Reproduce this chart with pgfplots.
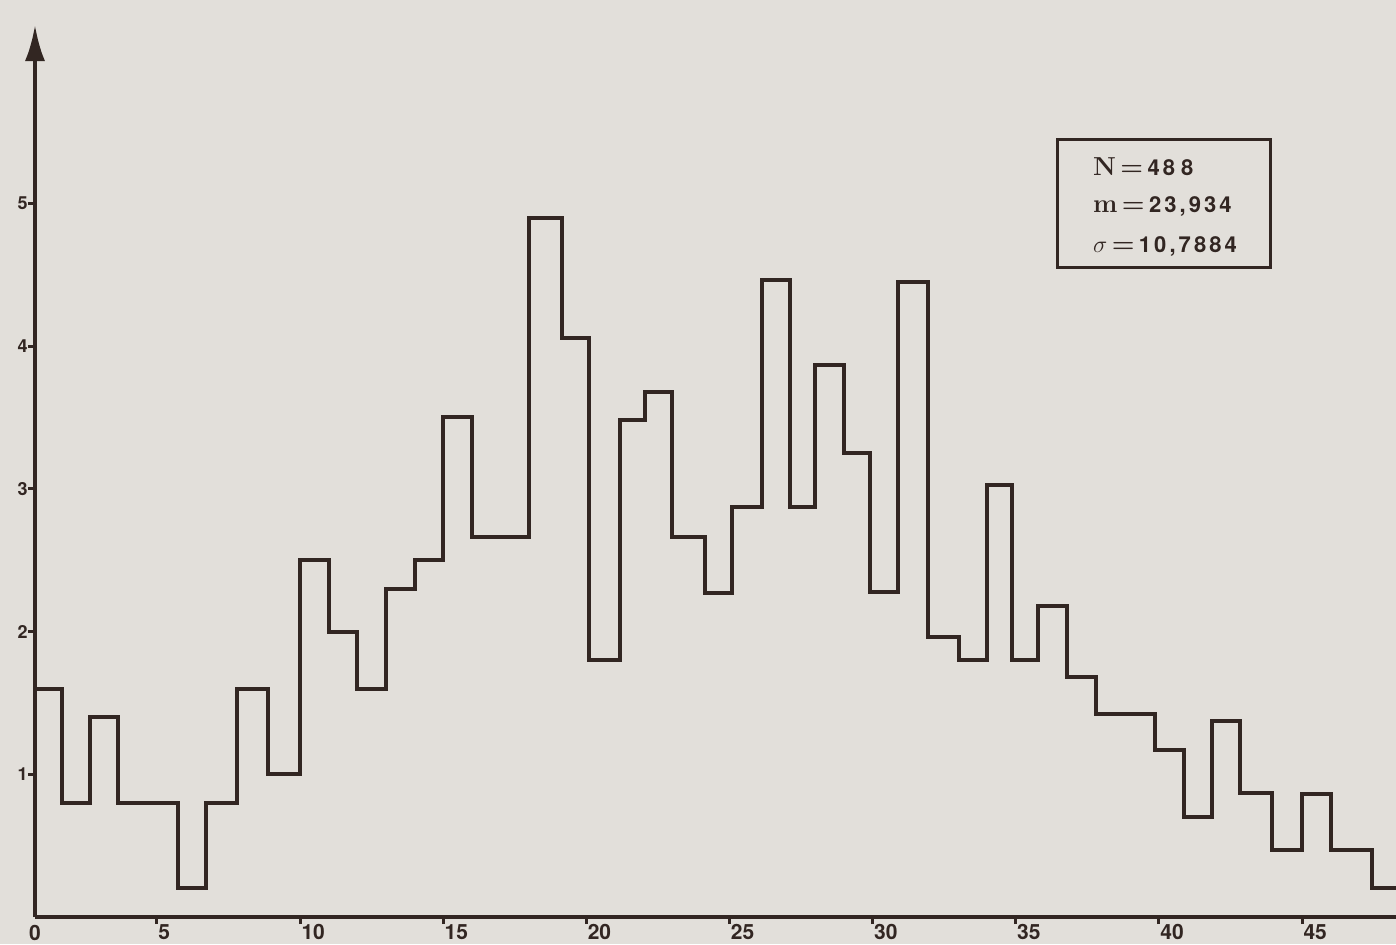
\documentclass[border=0pt]{standalone}
\usepackage{pgfplots}
\pgfplotsset{compat=1.18}
\usepackage{pgfplotstable}
\usepackage{fontspec}
\setsansfont{TeX Gyre Heros}
\newfontfamily\boxnum{TeX Gyre Heros}[LetterSpace=14]
\usetikzlibrary{arrows.meta}

\definecolor{paper}{RGB}{226,223,218}
\definecolor{ink}{RGB}{50,38,34}

% left edge of each class, frequency (last row closes the final step)
\pgfplotstableread{
x     f
0.74  1.6
1.68  0.8
2.66  1.4
3.64  0.8
4.69  0.8
5.73  0.2
6.71  0.8
7.8   1.6
8.88  1.0
10    2.5
11    2.0
12    1.6
13    2.3
14    2.5
15    3.5
16    2.66
17    2.66
18    4.9
19.15 4.06
20.1  1.8
21.17 3.48
22.05 3.68
23    2.66
24.14 2.27
25.1  2.87
26.13 4.46
27.1  2.87
28    3.87
29    3.25
29.9  2.28
30.88 4.45
31.93 1.96
33    1.8
34    3.03
34.87 1.8
35.77 2.18
36.79 1.68
37.8  1.42
38.8  1.42
39.86 1.17
40.87 0.7
41.85 1.37
42.83 0.87
43.95 0.47
45    0.86
46    0.47
47.45 0.2
48.28 0.2
}\histdata

\begin{document}
\begin{tikzpicture}[x=1pt,y=1pt]
\fill[paper] (-17.5,-13.5) rectangle (680.5,458.5);
\begin{axis}[
  at={(0,0)}, anchor=south west,
  scale only axis, width=680.5pt, height=446pt,
  xmin=0.74, xmax=48.28, ymin=0, ymax=6.25,
  axis x line=bottom, axis y line=left,
  x axis line style={-, line width=2pt, draw=ink},
  y axis line style={-{Latex[length=18pt,width=10pt]}, line width=2pt, draw=ink},
  xtick={5,10,...,45}, ytick={1,2,3,4,5},
  tick align=outside, major tick length=3.5pt,
  tick style={line width=1.5pt, draw=ink},
  /pgf/number format/assume math mode=true,
  xticklabel style={font=\sffamily\bfseries\fontsize{10.5}{12}\selectfont, text=ink,
    anchor=north west, inner sep=0pt, xshift=0.5pt},
  yticklabel style={font=\sffamily\bfseries\fontsize{9}{10}\selectfont, text=ink,
    anchor=east, inner sep=0pt},
]
\addplot[const plot mark left, line width=2pt, draw=ink, line join=miter] table[x=x, y=f] {\histdata};

% summary box
\draw[line width=1.5pt, draw=ink] (axis cs:36.44,4.548) rectangle (axis cs:43.91,5.445);
\node[anchor=west, text=ink, inner sep=0pt] at (axis cs:37.69,5.26)
  {\fontsize{13}{15}\selectfont\bfseries N\,=\,\boxnum\fontsize{11}{12}\selectfont 48\hspace{3pt}8};
\node[anchor=west, text=ink, inner sep=0pt] at (axis cs:37.69,4.98)
  {\fontsize{13}{15}\selectfont\bfseries m\,=\,\boxnum\fontsize{11}{12}\selectfont 23,934};
\node[anchor=west, text=ink, inner sep=0pt] at (axis cs:37.69,4.70)
  {\fontsize{13}{15}\selectfont$\sigma$\,\bfseries=\,\boxnum\fontsize{11}{12}\selectfont 10,7884};
\end{axis}
\node[anchor=north, text=ink, inner sep=0pt, font=\sffamily\bfseries\fontsize{10.5}{12}\selectfont] at (0,-4) {0};
\pgfresetboundingbox
\useasboundingbox (-17.5,-13.5) rectangle (680.5,458.5);
\end{tikzpicture}
\end{document}
